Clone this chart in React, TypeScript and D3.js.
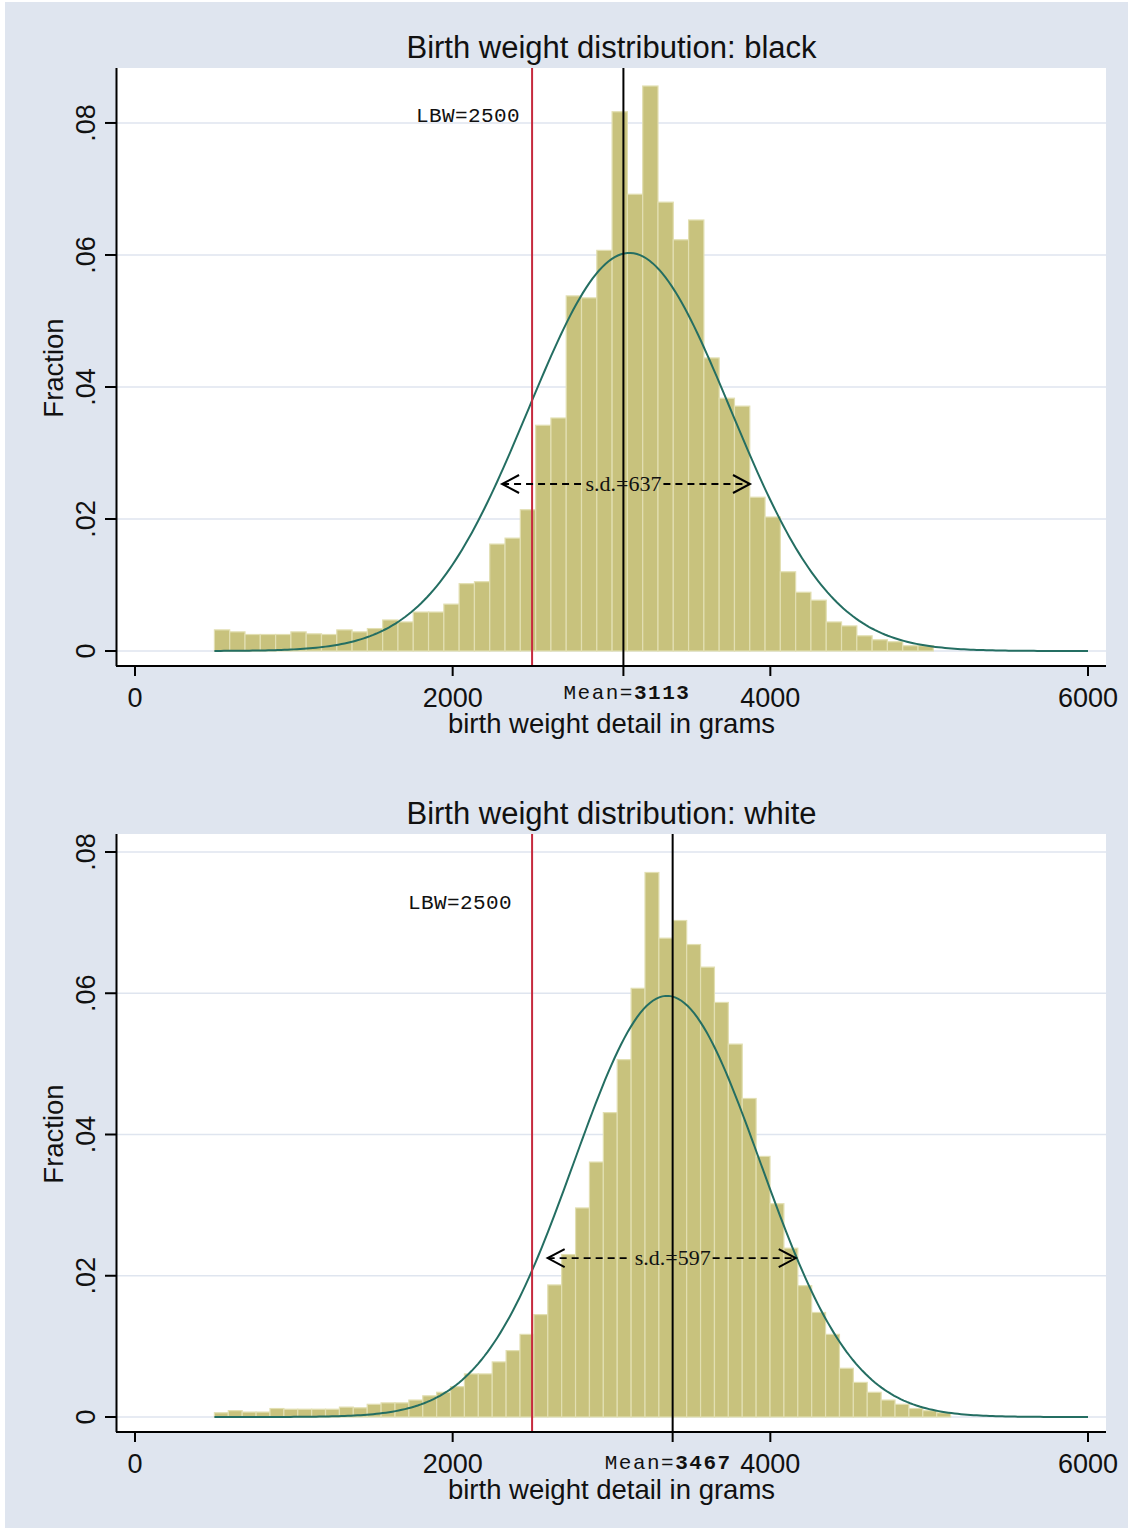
import React from 'react';
import * as d3 from 'd3';

// histogram bins start at 500 g; widths differ per group
const binStart = 500;
const blackBinWidth = 96.3;
const whiteBinWidth = 87.45;

// fraction of births per bin
const blackFractions = [
  0.0032, 0.0029, 0.0025, 0.0025, 0.0025, 0.0029, 0.0026, 0.0025, 0.0032, 0.0029,
  0.0034, 0.0047, 0.0044, 0.0059, 0.0059, 0.0071, 0.0102, 0.0105, 0.0162, 0.0171,
  0.0214, 0.0342, 0.0353, 0.0538, 0.0535, 0.0607, 0.0817, 0.0692, 0.0856, 0.0680,
  0.0623, 0.0653, 0.0444, 0.0383, 0.0371, 0.0233, 0.0203, 0.0120, 0.0089, 0.0077,
  0.0044, 0.0038, 0.0023, 0.0017, 0.0014, 0.0008, 0.0008,
];
const whiteFractions = [
  0.0006, 0.0009, 0.0007, 0.0007, 0.0012, 0.0011, 0.0011, 0.0011, 0.0011, 0.0014,
  0.0013, 0.0018, 0.0020, 0.0020, 0.0024, 0.0030, 0.0035, 0.0043, 0.0061, 0.0061,
  0.0078, 0.0094, 0.0117, 0.0145, 0.0187, 0.0230, 0.0296, 0.0361, 0.0431, 0.0506,
  0.0607, 0.0771, 0.0678, 0.0703, 0.0669, 0.0637, 0.0587, 0.0528, 0.0451, 0.0369,
  0.0302, 0.0239, 0.0186, 0.0148, 0.0117, 0.0069, 0.0049, 0.0035, 0.0024, 0.0018,
  0.0012, 0.0009, 0.0006,
];

const xTicks = [0, 2000, 4000, 6000];
const yTicks = [0, 0.02, 0.04, 0.06, 0.08];
const yTickLabels = ['0', '.02', '.04', '.06', '.08'];

const titles = ['Birth weight distribution: black', 'Birth weight distribution: white'];
// normal overlay parameters (as drawn)
const curveMeans = [3113, 3350];
const curveSds = [637, 585];
// annotations
const meanLines = [3075, 3385];
const meanLabels = ['3113', '3467'];
const sdLabels = ['637', '597'];
const sdFrom = [2311, 2598];
const sdTo = [3872, 4160];
const sdAt = [0.0253, 0.0225];
const lbw = 2500;
const lbwLabelX = [2424, 2374];
const lbwLabelY = [0.0811, 0.0728];

const SANS = 'Liberation Sans, Arial, Helvetica, sans-serif';
const MONO = 'Liberation Mono, Courier New, monospace';
const SERIF = 'Liberation Serif, Times New Roman, serif';
const BG = '#dfe5ef';

// small layout nudges for the mean tick label
const meanLabelDx = [3.5, -4.5];
const meanLabelY = [699, 703];

const Panel = ({ idx, fractions, binWidth, dy }) => {
  const left = 117, right = 1106, top = 68, bottom = 666;
  const x = d3.scaleLinear().domain([0, 6000]).range([135, 1088]);
  const yMax = Math.max(d3.max(fractions), 0.08);
  const y = d3.scaleLinear().domain([0, yMax]).range([651, 86]);

  const bins = fractions.map((f, i) => ({
    x0: binStart + i * binWidth,
    x1: binStart + (i + 1) * binWidth,
    f,
  }));

  const m = curveMeans[idx], s = curveSds[idx];
  const curve = d3.range(binStart, 6001, 20).map(g => [
    g,
    (binWidth / (s * Math.sqrt(2 * Math.PI))) * Math.exp(-0.5 * ((g - m) / s) ** 2),
  ]);
  const line = d3.line().x(d => x(d[0])).y(d => y(d[1]));

  const mx = x(meanLines[idx]);
  const ax0 = x(sdFrom[idx]), ax1 = x(sdTo[idx]), ay = y(sdAt[idx]);

  return (
    <g transform={`translate(0, ${dy})`}>
      <rect x={left} y={top} width={right - left} height={bottom - top} fill="#fff" />
      {yTicks.map(t => (
        <line key={t} x1={left} x2={right} y1={y(t)} y2={y(t)} stroke={BG} strokeWidth={1.5} />
      ))}
      {bins.map((b, i) => (
        <rect
          key={i}
          x={x(b.x0)}
          y={y(b.f)}
          width={x(b.x1) - x(b.x0)}
          height={y(0) - y(b.f)}
          fill="#c8c27d"
          stroke="#e2dfb2"
          strokeWidth={1.2}
        />
      ))}
      <path d={line(curve)} fill="none" stroke="#246e62" strokeWidth={2} />
      <line x1={x(lbw)} x2={x(lbw)} y1={top} y2={bottom} stroke="#c62a3e" strokeWidth={2} />
      <line x1={mx} x2={mx} y1={top} y2={bottom + 10} stroke="#000" strokeWidth={2} />

      {/* s.d. arrow */}
      <line x1={ax0} x2={mx - 41} y1={ay} y2={ay} stroke="#000" strokeWidth={1.8} strokeDasharray="7 5" />
      <line x1={mx + 40} x2={ax1} y1={ay} y2={ay} stroke="#000" strokeWidth={1.8} strokeDasharray="7 5" />
      <path d={`M${ax0 + 17},${ay - 9}L${ax0},${ay}L${ax0 + 17},${ay + 9}`} fill="none" stroke="#000" strokeWidth={2} />
      <path d={`M${ax1 - 17},${ay - 9}L${ax1},${ay}L${ax1 - 17},${ay + 9}`} fill="none" stroke="#000" strokeWidth={2} />
      <text x={mx} y={ay + 7} textAnchor="middle" fontFamily={SERIF} fontSize={22} fill="#111">
        s.d.={sdLabels[idx]}
      </text>

      <text x={x(lbwLabelX[idx])} y={y(lbwLabelY[idx]) + 6} textAnchor="end" fontFamily={MONO} fontSize={21} letterSpacing={0.4} fill="#111">
        LBW=2500
      </text>

      {/* axes */}
      <line x1={left - 0.5} x2={left - 0.5} y1={top} y2={bottom} stroke="#000" strokeWidth={2} />
      <line x1={left - 1} x2={right} y1={bottom} y2={bottom} stroke="#000" strokeWidth={2} />
      {yTicks.map((t, i) => (
        <g key={t}>
          <line x1={left - 12} x2={left} y1={y(t)} y2={y(t)} stroke="#000" strokeWidth={2} />
          <text
            transform={`translate(95, ${y(t)}) rotate(-90)`}
            textAnchor="middle"
            fontFamily={SANS}
            fontSize={27}
            fill="#111"
          >
            {yTickLabels[i]}
          </text>
        </g>
      ))}
      {xTicks.map(t => (
        <g key={t}>
          <line x1={x(t)} x2={x(t)} y1={bottom} y2={bottom + 10} stroke="#000" strokeWidth={2} />
          <text x={x(t)} y={707} textAnchor="middle" fontFamily={SANS} fontSize={27} fill="#111">
            {t}
          </text>
        </g>
      ))}
      <text
        x={mx + meanLabelDx[idx]}
        y={meanLabelY[idx]}
        textAnchor="middle"
        fontFamily={MONO}
        fontSize={21}
        letterSpacing={1.5}
        fill="#111"
      >
        Mean=<tspan fontWeight="bold">{meanLabels[idx]}</tspan>
      </text>

      <text x={(left + right) / 2} y={733} textAnchor="middle" fontFamily={SANS} fontSize={27.5} fill="#111">
        birth weight detail in grams
      </text>
      <text transform="translate(63, 368) rotate(-90)" textAnchor="middle" fontFamily={SANS} fontSize={27.5} fill="#111">
        Fraction
      </text>
      <text x={(left + right) / 2} y={58} textAnchor="middle" fontFamily={SANS} fontSize={31} fill="#111">
        {titles[idx]}
      </text>
    </g>
  );
};

export default function App() {
  return (
    <div style={{ position: 'absolute', left: 0, top: 0 }}>
      <svg width={1128} height={1528} style={{ display: 'block', background: '#fff' }}>
        <rect x={5} y={2} width={1123} height={1526} fill={BG} />
        <Panel idx={0} fractions={blackFractions} binWidth={blackBinWidth} dy={0} />
        <Panel idx={1} fractions={whiteFractions} binWidth={whiteBinWidth} dy={766} />
      </svg>
    </div>
  );
}
